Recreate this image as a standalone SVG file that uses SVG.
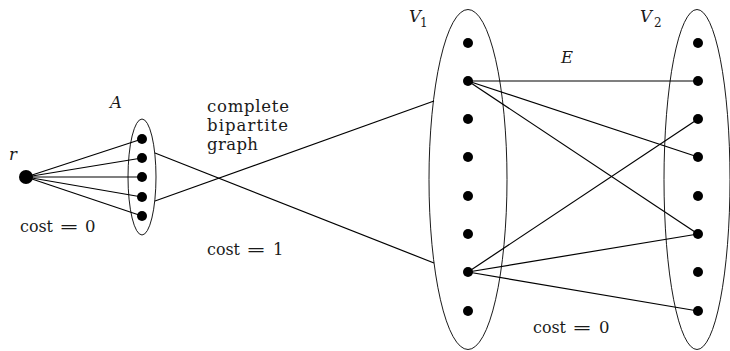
<svg xmlns="http://www.w3.org/2000/svg" width="730" height="351" viewBox="0 0 730 351">
<style>
.bg{fill:#fff}
.set{fill:none;stroke:#000;stroke-width:0.9}
.e{stroke:#000;stroke-width:1.2;fill:none}
.dot{fill:#000}
.t{font-family:"DejaVu Serif","Liberation Serif",serif;font-size:16.5px;fill:#1a1a1a}
.m{font-family:"DejaVu Serif","Liberation Serif",serif;font-style:italic;font-size:16.5px;fill:#1a1a1a}
.sub{font-family:"DejaVu Serif","Liberation Serif",serif;font-size:12px;fill:#1a1a1a}
</style>
<rect class="bg" x="0" y="0" width="730" height="351"/>
<g id="connectors">
  <line class="e" x1="26" y1="177" x2="142" y2="139"/>
  <line class="e" x1="26" y1="177" x2="142" y2="158"/>
  <line class="e" x1="26" y1="177" x2="142" y2="177"/>
  <line class="e" x1="26" y1="177" x2="142" y2="197"/>
  <line class="e" x1="26" y1="177" x2="142" y2="216"/>
  <line class="e" x1="155" y1="153" x2="434" y2="263"/>
  <line class="e" x1="155" y1="201" x2="434" y2="101"/>
  <line class="e" x1="468" y1="81" x2="698" y2="81"/>
  <line class="e" x1="468" y1="81" x2="698" y2="157"/>
  <line class="e" x1="468" y1="81" x2="698" y2="234"/>
  <line class="e" x1="468" y1="272" x2="698" y2="119"/>
  <line class="e" x1="468" y1="272" x2="698" y2="234"/>
  <line class="e" x1="468" y1="272" x2="698" y2="311"/>
</g>
<g id="r">
  <circle class="dot" cx="26" cy="177" r="7"/>
  <text class="m" x="9" y="160">r</text>
</g>
<g id="A">
  <ellipse class="set" cx="142" cy="177" rx="14" ry="58"/>
  <circle class="dot" cx="142" cy="139" r="5"/>
  <circle class="dot" cx="142" cy="158" r="5"/>
  <circle class="dot" cx="142" cy="177" r="5"/>
  <circle class="dot" cx="142" cy="197" r="5"/>
  <circle class="dot" cx="142" cy="216" r="5"/>
  <text class="m" x="110" y="108">A</text>
</g>
<g id="V1">
  <ellipse class="set" cx="468" cy="179.5" rx="39" ry="170"/>
  <circle class="dot" cx="468" cy="43" r="5"/>
  <circle class="dot" cx="468" cy="81" r="5"/>
  <circle class="dot" cx="468" cy="119" r="5"/>
  <circle class="dot" cx="468" cy="157" r="5"/>
  <circle class="dot" cx="468" cy="196" r="5"/>
  <circle class="dot" cx="468" cy="234" r="5"/>
  <circle class="dot" cx="468" cy="272" r="5"/>
  <circle class="dot" cx="468" cy="311" r="5"/>
  <text class="m" x="409" y="22">V</text><text class="sub" x="420" y="27">1</text>
</g>
<g id="V2">
  <ellipse class="set" cx="697" cy="179.5" rx="33" ry="170"/>
  <circle class="dot" cx="698" cy="43" r="5"/>
  <circle class="dot" cx="698" cy="81" r="5"/>
  <circle class="dot" cx="698" cy="119" r="5"/>
  <circle class="dot" cx="698" cy="157" r="5"/>
  <circle class="dot" cx="698" cy="196" r="5"/>
  <circle class="dot" cx="698" cy="234" r="5"/>
  <circle class="dot" cx="698" cy="272" r="5"/>
  <circle class="dot" cx="698" cy="311" r="5"/>
  <text class="m" x="640" y="22">V</text><text class="sub" x="654" y="27">2</text>
</g>
<g id="labels">
  <text class="m" x="561" y="63">E</text>
  <text class="t" x="207" y="112" textLength="82" lengthAdjust="spacing">complete</text>
  <text class="t" x="207" y="131" textLength="81" lengthAdjust="spacing">bipartite</text>
  <text class="t" x="207" y="150" textLength="51" lengthAdjust="spacing">graph</text>
  <text class="t" x="20" y="232" textLength="33" lengthAdjust="spacingAndGlyphs">cost</text>
  <text class="t" x="59" y="232" textLength="20" lengthAdjust="spacingAndGlyphs">=</text>
  <text class="t" x="85" y="232">0</text>
  <text class="t" x="207" y="255" textLength="33" lengthAdjust="spacingAndGlyphs">cost</text>
  <text class="t" x="246" y="255" textLength="20" lengthAdjust="spacingAndGlyphs">=</text>
  <text class="t" x="273" y="255">1</text>
  <text class="t" x="533" y="333" textLength="33" lengthAdjust="spacingAndGlyphs">cost</text>
  <text class="t" x="572" y="333" textLength="20" lengthAdjust="spacingAndGlyphs">=</text>
  <text class="t" x="599" y="333">0</text>
</g>
</svg>
